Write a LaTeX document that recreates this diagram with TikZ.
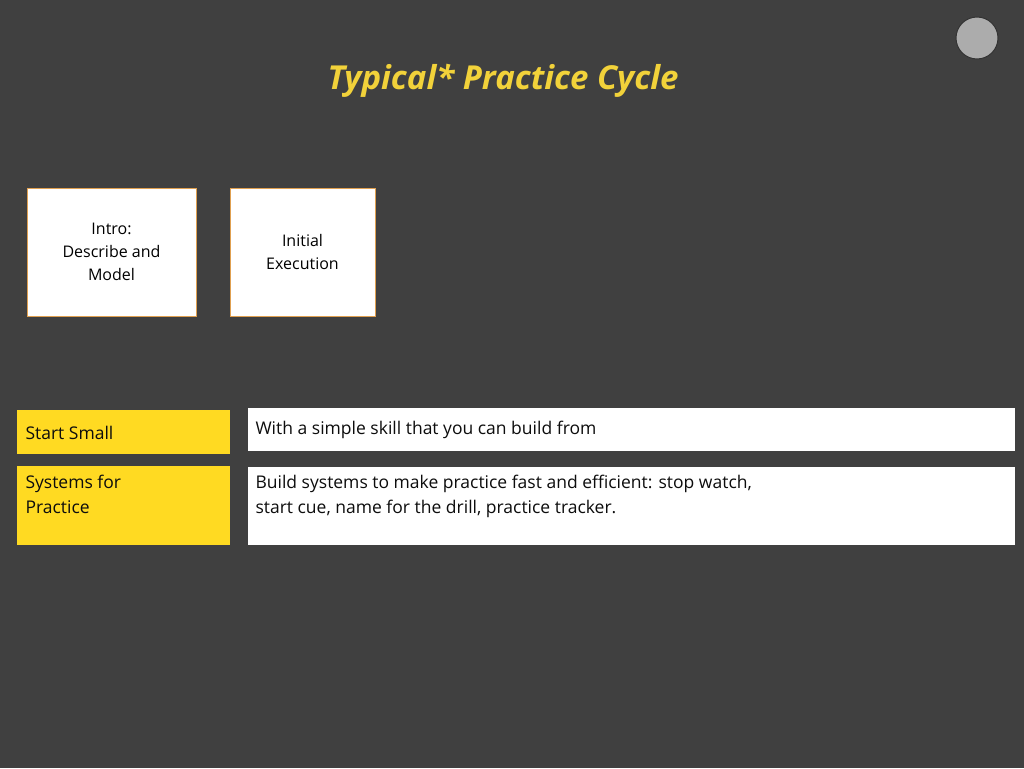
\documentclass[tikz,border=0pt]{standalone}
\usepackage{fontspec}
\setmainfont{Open Sans}
\definecolor{bg}{HTML}{404040}
\definecolor{ylw}{HTML}{FFDA22}
\definecolor{ttl}{HTML}{F2D23A}
\definecolor{brd}{HTML}{E0A050}
\begin{document}
\begin{tikzpicture}[x=1pt,y=-1pt,
  stepbox/.style={draw=brd,fill=white,line width=0.8pt,align=center,font=\fontsize{16}{23}\selectfont,text=black},
  ybox/.style={fill=ylw,align=left,anchor=north west,inner sep=0pt,font=\fontsize{17.5}{25}\selectfont,text=black!80!bg},
  wbox/.style={fill=white,anchor=north west,inner sep=0pt,font=\fontsize{17.5}{25}\selectfont,text=black!80!bg}]
\fill[bg] (0,0) rectangle (1024,768);
\useasboundingbox (0,0) rectangle (1024,768);
\node[circle,fill=gray!65,draw=gray!40!black,line width=1pt,minimum size=42pt] (dot) at (977,38) {};
\node[text=ttl,font=\bfseries\itshape\fontsize{33}{40}\selectfont] (title) at (503,81) {Typical* Practice Cycle};
\node[stepbox,minimum width=169pt,minimum height=128pt] (intro) at (111.5,252) {Intro:\\Describe and\\Model};
\node[stepbox,minimum width=145pt,minimum height=128pt] (init) at (302.5,252) {Initial\\Execution};
\fill[ylw] (17,410) rectangle (230,454);
\node[anchor=west,font=\fontsize{17.5}{25}\selectfont,text=black!80!bg] (s1) at (22,433) {Start Small};
\fill[white] (248,408) rectangle (1015,451);
\node[anchor=west,font=\fontsize{17.5}{25}\selectfont,text=black!80!bg] (t1) at (252,430) {With a simple skill that you can build from};
\fill[ylw] (17,466) rectangle (230,545);
\node[anchor=north west,align=left,font=\fontsize{17.5}{25}\selectfont,text=black!80!bg] (s2) at (22,472) {Systems for\\Practice};
\fill[white] (248,467) rectangle (1015,545);
\node[anchor=north west,align=left,font=\fontsize{17.5}{25}\selectfont,text=black!80!bg] (t2) at (252,472) {Build systems to make practice fast and efficient: stop watch,\\start cue, name for the drill, practice tracker.};
\end{tikzpicture}
\end{document}
